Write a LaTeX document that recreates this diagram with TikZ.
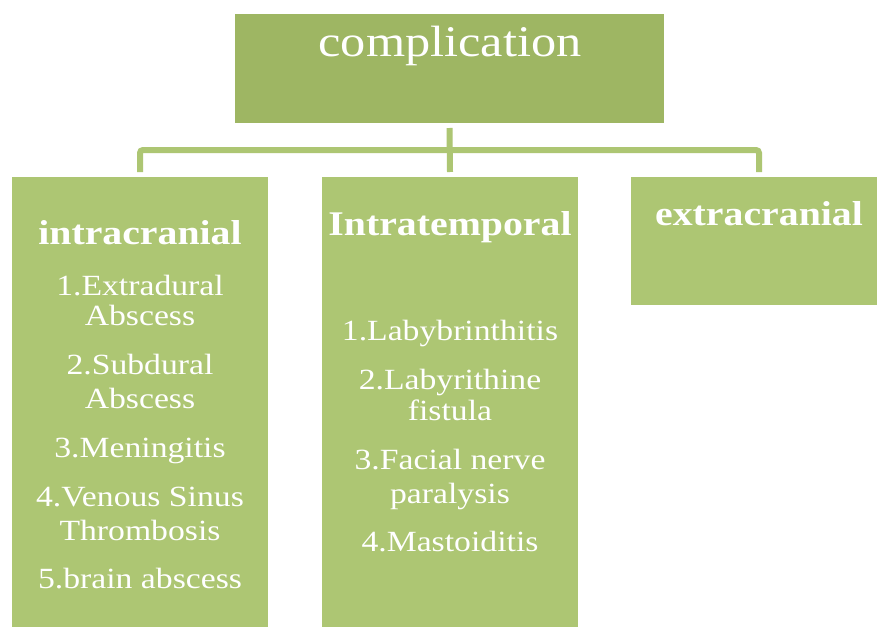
\documentclass[tikz,border=0pt]{standalone}
\usepackage{fontspec}
\setmainfont{Liberation Serif}[FakeStretch=1.15]
\usetikzlibrary{calc}
\definecolor{topgreen}{HTML}{9EB663}
\definecolor{boxgreen}{HTML}{ADC673}
\definecolor{txt}{HTML}{FFFFFF}
\tikzset{
  box/.style={fill=#1, draw=none, inner sep=0pt, outer sep=0pt, anchor=north west},
  conn/.style={draw=boxgreen, line width=6pt, rounded corners=3pt},
  ttl/.style={text=txt, inner sep=0pt, anchor=base, font=\fontsize{43.8}{50}\selectfont},
  head/.style={text=txt, inner sep=0pt, anchor=base, font=\fontsize{34.6}{40}\selectfont\bfseries},
  item/.style={text=txt, inner sep=0pt, anchor=base, font=\fontsize{29.3}{34}\selectfont}
}
\begin{document}
\begin{tikzpicture}[x=1pt,y=-1pt]
\useasboundingbox (0,0) rectangle (877,626);
\fill[white] (0,0) rectangle (877,626);
% boxes
\node[box=topgreen, minimum width=429pt, minimum height=109pt] (top) at (235,14) {};
\node[box=boxgreen, minimum width=256pt, minimum height=452pt] (lbox) at (12,177) {};
\node[box=boxgreen, minimum width=256pt, minimum height=452pt] (mbox) at (322,177) {};
\node[box=boxgreen, minimum width=256pt, minimum height=128pt] (rbox) at (631,177) {};
% connectors
\coordinate (mid) at ($(top.south)!0.5!(mbox.north)$);
\draw[conn] ([yshift=5pt]lbox.north) |- (mid) -| ([yshift=5pt]rbox.north);
\draw[conn, rounded corners=0pt] ([yshift=-5pt]top.south) -- ([yshift=5pt]mbox.north);
% texts
\node[ttl] (tc) at (450,56.7) {complication};
\node[head] (h1) at (140,244) {intracranial};
\node[head] (h2) at (450,235) {Intratemporal};
\node[head] (h3) at (759,225) {extracranial};
\node[item] (a1) at (140,295) {1.Extradural};
\node[item] (a1b) at (140,325.7) {Abscess};
\node[item] (a2) at (140,374) {2.Subdural};
\node[item] (a2b) at (140,408.3) {Abscess};
\node[item] (a3) at (140,457.5) {3.Meningitis};
\node[item] (a4) at (140,506) {4.Venous Sinus};
\node[item] (a4b) at (140,540.7) {Thrombosis};
\node[item] (a5) at (140,588.3) {5.brain abscess};
\node[item] (b1) at (450,340.7) {1.Labybrinthitis};
\node[item] (b2) at (450,389) {2.Labyrithine};
\node[item] (b2b) at (450,420.7) {fistula};
\node[item] (b3) at (450,469.3) {3.Facial nerve};
\node[item] (b3b) at (450,503.3) {paralysis};
\node[item] (b4) at (450,551.7) {4.Mastoiditis};
\end{tikzpicture}
\end{document}
